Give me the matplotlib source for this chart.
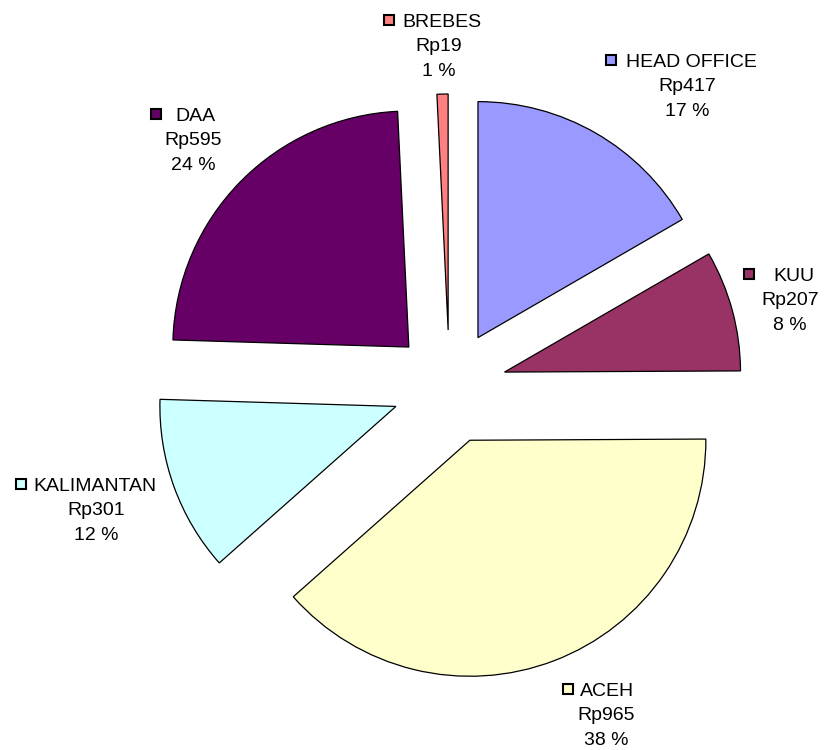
import matplotlib.pyplot as plt
from matplotlib.patches import Rectangle

plt.rcParams['font.family'] = ['Liberation Sans', 'DejaVu Sans']

names = ["HEAD OFFICE", "KUU", "ACEH", "KALIMANTAN", "DAA", "BREBES"]
values = [417, 207, 965, 301, 595, 19]
percents = [17, 8, 38, 12, 24, 1]
colors = ["#9999FF", "#993366", "#FFFFCC", "#CCFFFF", "#660066", "#FF8080"]

# label layout in pixels: square left x, text left x, centre x of lines 2-3, first baseline
label_pos = [
    (605, 626, 687, 67),
    (743, 773, 790, 281),
    (562, 580, 606, 696),
    (15, 33, 96, 491),
    (150, 175, 193, 121),
    (383, 402, 439, 27),
]

W, H = 825, 750
fig = plt.figure(figsize=(W / 100, H / 100), dpi=100)

ax = fig.add_axes([0, 0, 1, 1])
# pie explode is in data units here (axes are in pixels)
ax.pie(values, colors=colors, startangle=90, counterclock=False,
       explode=[57] * len(values), radius=236, center=(449.5, H - 387),
       wedgeprops=dict(edgecolor="black", linewidth=0.9))
ax.set_xlim(0, W)
ax.set_ylim(0, H)
ax.set_aspect("auto")
ax.axis("off")

lab = fig.add_axes([0, 0, 1, 1])
lab.set_xlim(0, W)
lab.set_ylim(H, 0)
lab.axis("off")

fs = 14
for name, val, pct, col, (sx, tx, cx, by) in zip(names, values, percents, colors, label_pos):
    lab.add_patch(Rectangle((sx + 1, by - 12), 10, 10, facecolor=col,
                            edgecolor="black", linewidth=1.5))
    lab.text(tx, by, name, fontsize=fs, ha="left", va="baseline")
    lab.text(cx, by + 24, "Rp%d" % val, fontsize=fs, ha="center", va="baseline")
    lab.text(cx, by + 49, "%d %%" % pct, fontsize=fs, ha="center", va="baseline")

fig.savefig("out.png", dpi=100)
